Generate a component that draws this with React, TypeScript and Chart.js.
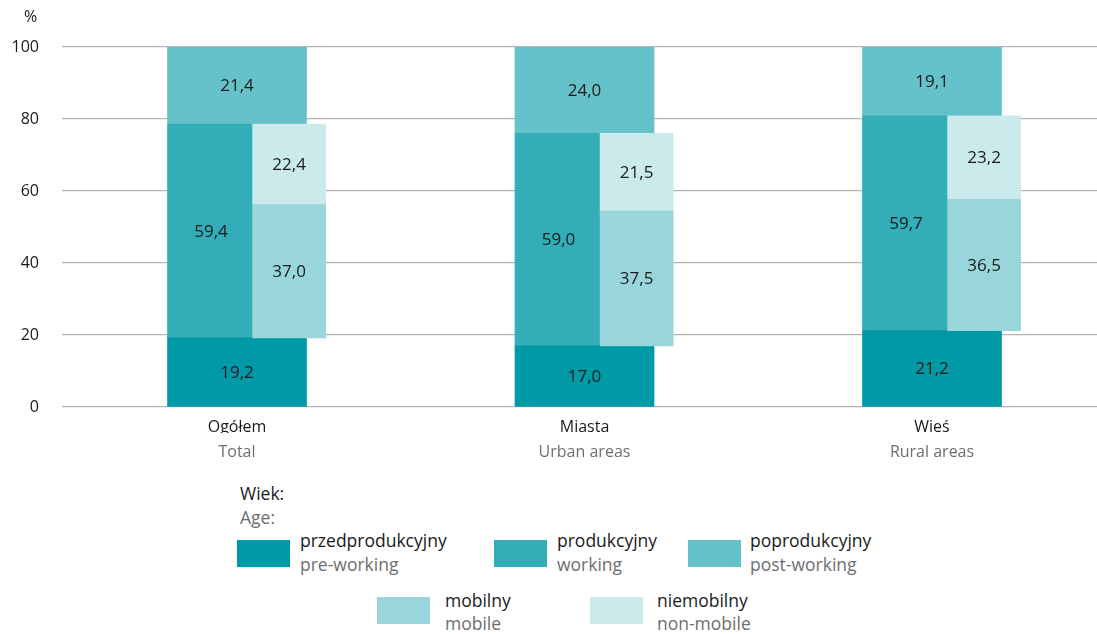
import React, { useEffect, useRef } from 'react';
import { Chart, registerables } from 'chart.js';

Chart.register(...registerables);

const categoriesPl = ['Ogółem', 'Miasta', 'Wieś'];
const categoriesEn = ['Total', 'Urban areas', 'Rural areas'];
const preWorking = [19.2, 17.0, 21.2];
const working = [59.4, 59.0, 59.7];
const postWorking = [21.4, 24.0, 19.1];
const mobile = [37.0, 37.5, 36.5];
const nonMobile = [22.4, 21.5, 23.2];
const yTicks = [0, 20, 40, 60, 80, 100];

const C_PRE = '#0099a6';
const C_WORK = '#33adb8';
const C_POST = '#66c2ca';
const C_MOB = '#99d6db';
const C_NON = '#cbeaec';
const GRAY = '#6d6e71';
const TXT = '#1a1a1a';
const FONT = "'Open Sans', 'Noto Sans', sans-serif";

const X_MIN = -0.5036;
const X_MAX = 2.4748;
const SHIFT = 0.15;

function seg(starts: number[], vals: number[]) {
  return vals.map((v, i) => ({ x: i, y: [starts[i], starts[i] + v] }));
}

const labelPlugin = {
  id: 'segLabels',
  afterDatasetsDraw(chart: any) {
    const ctx = chart.ctx;
    ctx.save();
    ctx.font = `17px ${FONT}`;
    ctx.fillStyle = TXT;
    ctx.textAlign = 'center';
    ctx.textBaseline = 'middle';
    chart.data.datasets.forEach((ds: any, di: number) => {
      const meta = chart.getDatasetMeta(di);
      meta.data.forEach((el: any, i: number) => {
        const v = ds.values[i];
        const cx = ds.labelShift ? el.x + ds.labelShift : el.x;
        ctx.fillText(v.toFixed(1).replace('.', ','), cx, (el.y + el.base) / 2 + 1);
      });
    });
    ctx.restore();
  },
};

export default function App() {
  const ref = useRef<HTMLCanvasElement>(null);

  useEffect(() => {
    if (!ref.current) return;
    const s1 = preWorking;
    const s2 = preWorking.map((p, i) => p + working[i]);
    const m2 = preWorking.map((p, i) => p + mobile[i]);
    const xTicks = (labels: string[], color: string, padding: number) => ({
      stepSize: 1,
      includeBounds: false,
      autoSkip: false,
      maxRotation: 0,
      padding,
      color,
      font: { family: FONT, size: 16 },
      callback: (v: any) => (Number.isInteger(v) && labels[v] !== undefined ? labels[v] : ''),
    });
    const chart = new Chart(ref.current, {
      type: 'bar',
      data: {
        datasets: [
          { label: 'mobilny', data: seg(s1, mobile), values: mobile, backgroundColor: C_MOB, xAxisID: 'x2', barThickness: 73, grouped: false, order: 0 } as any,
          { label: 'niemobilny', data: seg(m2, nonMobile), values: nonMobile, backgroundColor: C_NON, xAxisID: 'x2', barThickness: 73, grouped: false, order: 0 } as any,
          { label: 'przedprodukcyjny', data: seg(preWorking.map(() => 0), preWorking), values: preWorking, backgroundColor: C_PRE, xAxisID: 'x', barThickness: 139, grouped: false, order: 1 } as any,
          { label: 'produkcyjny', data: seg(s1, working), values: working, backgroundColor: C_WORK, xAxisID: 'x', barThickness: 139, grouped: false, order: 1, labelShift: -26 } as any,
          { label: 'poprodukcyjny', data: seg(s2, postWorking), values: postWorking, backgroundColor: C_POST, xAxisID: 'x', barThickness: 139, grouped: false, order: 1 } as any,
        ],
      },
      options: {
        animation: false,
        responsive: false,
        maintainAspectRatio: false,
        layout: { padding: { left: 0, right: 0, top: 47, bottom: 7 } },
        plugins: { legend: { display: false }, tooltip: { enabled: false }, title: { display: false } },
        scales: {
          y: {
            type: 'linear',
            min: 0,
            max: 100,
            afterBuildTicks: (s: any) => { s.ticks = yTicks.map((v) => ({ value: v })); },
            afterFit: (s: any) => { s.width = 62; },
            grid: { color: '#b3b3b3', lineWidth: 1.2, drawTicks: false },
            border: { display: false },
            ticks: { color: TXT, font: { family: FONT, size: 16 }, padding: 23 },
          },
          x: {
            type: 'linear',
            position: 'bottom',
            offset: false,
            min: X_MIN,
            max: X_MAX,
            afterFit: (s: any) => { s.height = 26; },
            grid: { display: false, drawTicks: false, offset: false },
            border: { display: false },
            ticks: xTicks(categoriesPl, TXT, 11),
          },
          xSub: {
            type: 'linear',
            position: 'bottom',
            offset: false,
            min: X_MIN,
            max: X_MAX,
            afterFit: (s: any) => { s.height = 30; },
            grid: { display: false, drawTicks: false, offset: false },
            border: { display: false },
            ticks: xTicks(categoriesEn, GRAY, 10),
          },
          x2: {
            type: 'linear',
            display: false,
            offset: false,
            grid: { offset: false },
            min: X_MIN - SHIFT,
            max: X_MAX - SHIFT,
          },
        },
      } as any,
      plugins: [labelPlugin],
    });
    return () => chart.destroy();
  }, []);

  const txt = (t: string, x: number, y: number, color: string) => (
    <div style={{ position: 'absolute', left: x, top: y, fontSize: 17.5, lineHeight: '24px', color, whiteSpace: 'nowrap' }}>{t}</div>
  );
  const sw = (x: number, y: number, c: string) => (
    <div style={{ position: 'absolute', left: x, top: y, width: 53, height: 27, background: c }} />
  );

  return (
    <div style={{ position: 'absolute', left: 0, top: 0, width: 1097, height: 634, fontFamily: FONT, background: '#fff' }}>
      <canvas ref={ref} width={1097} height={470} style={{ position: 'absolute', left: 0, top: 0, width: 1097, height: 470 }} />
      <div style={{ position: 'absolute', left: 24, top: 6, fontSize: 16, lineHeight: '20px', color: TXT }}>%</div>
      {txt('Wiek:', 240, 481, TXT)}
      {txt('Age:', 240, 505, GRAY)}
      {sw(237, 540, C_PRE)}
      {txt('przedprodukcyjny', 300, 528, TXT)}
      {txt('pre-working', 300, 552, GRAY)}
      {sw(494, 540, C_WORK)}
      {txt('produkcyjny', 557, 528, TXT)}
      {txt('working', 557, 552, GRAY)}
      {sw(688, 540, C_POST)}
      {txt('poprodukcyjny', 750, 528, TXT)}
      {txt('post-working', 750, 552, GRAY)}
      {sw(377, 597, C_MOB)}
      {txt('mobilny', 445, 588, TXT)}
      {txt('mobile', 445, 611, GRAY)}
      {sw(590, 597, C_NON)}
      {txt('niemobilny', 657, 588, TXT)}
      {txt('non-mobile', 657, 611, GRAY)}
    </div>
  );
}
